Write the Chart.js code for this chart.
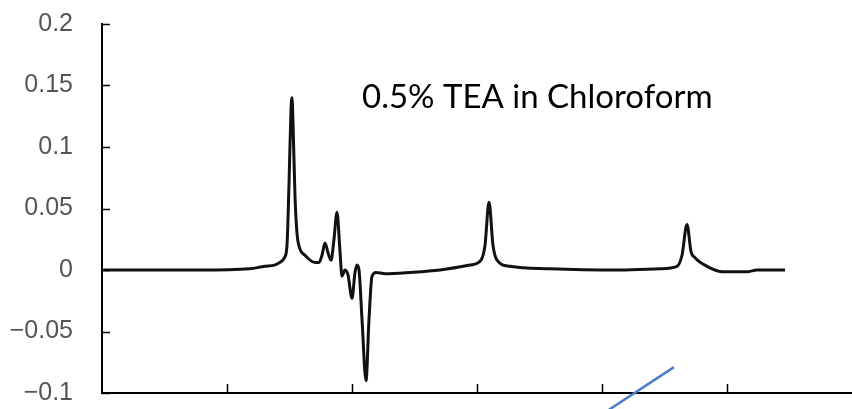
<!DOCTYPE html>
<html>
<head>
<meta charset="utf-8">
<script src="https://cdn.jsdelivr.net/npm/chart.js@4/dist/chart.umd.min.js"></script>
<style>
  html, body { margin: 0; padding: 0; background: #fff; }
  #wrap { width: 852px; height: 409px; position: relative; }
</style>
</head>
<body>
<div id="wrap"><canvas id="specChart"></canvas></div>
<script>
// spectrum trace (x in axis units, 1 unit = one x tick interval)
const position = [0.01, 0.78, 1.18, 1.30, 1.38, 1.42, 1.46, 1.48, 1.496, 1.512, 1.52, 1.528, 1.544, 1.56, 1.584,
    1.624, 1.664, 1.704, 1.736, 1.76, 1.784, 1.808, 1.832, 1.856, 1.88, 1.904, 1.92, 1.944, 1.968, 2.0,
    2.024, 2.04, 2.056, 2.08, 2.112, 2.136, 2.16, 2.192, 2.264, 2.464, 2.704, 2.944, 3.032, 3.064, 3.096,
    3.128, 3.16, 3.264, 3.584, 4.144, 4.464, 4.6, 4.64, 4.68, 4.712, 4.744, 4.84, 4.968, 5.16, 5.24, 5.464];
const signal = [0, 0, 0.001, 0.003, 0.004, 0.006, 0.010, 0.020, 0.070, 0.130, 0.140, 0.120, 0.060, 0.030, 0.017,
    0.012, 0.008, 0.006, 0.006, 0.012, 0.022, 0.014, 0.008, 0.025, 0.047, 0.015, -0.005, 0.0, -0.004, -0.023,
    -0.002, 0.004, 0.0, -0.040, -0.090, -0.040, -0.005, -0.002, -0.003, -0.002, 0.0, 0.004, 0.008, 0.020, 0.055,
    0.020, 0.008, 0.003, 0.001, 0.0, 0.001, 0.003, 0.012, 0.037, 0.015, 0.010, 0.003, -0.0015, -0.0015, 0.0, 0.0];

// blue annotation stroke
const markerX = [4.02, 4.576];
const markerY = [-0.116, -0.079];

const yTickLabels = ["\u22120.1", "\u22120.05", "0", "0.05", "0.1", "0.15", "0.2"];
const xTickValues = [1, 2, 3, 4, 5];
const titleText = "0.5% TEA in Chloroform";

const inwardTicks = {
    id: "inwardTicks",
    afterDraw(chart) {
        const ctx = chart.ctx;
        const xs = chart.scales.x, ys = chart.scales.y;
        const area = chart.chartArea;
        ctx.save();
        ctx.strokeStyle = "#000";
        ctx.lineWidth = 1.5;
        ctx.beginPath();
        ys.ticks.forEach(t => {
            const py = Math.round(ys.getPixelForValue(t.value)) + 0.5;
            ctx.moveTo(area.left, py);
            ctx.lineTo(area.left + 8, py);
        });
        xTickValues.forEach(v => {
            const px = Math.round(xs.getPixelForValue(v)) + 0.5;
            ctx.moveTo(px, area.bottom);
            ctx.lineTo(px, area.bottom - 9);
        });
        ctx.stroke();

        // label inside the plot
        ctx.fillStyle = "#000";
        ctx.font = "33px Lato";
        ctx.textBaseline = "alphabetic";
        ctx.textAlign = "left";
        ctx.fillText(titleText, xs.getPixelForValue(2.08), ys.getPixelForValue(0.1317));
        ctx.restore();
    }
};

new Chart(document.getElementById("specChart"), {
    type: "line",
    data: {
        datasets: [
            {
                label: "signal",
                data: position.map((x, i) => ({ x: x, y: signal[i] })),
                borderColor: "#111",
                borderWidth: 3,
                pointRadius: 0,
                cubicInterpolationMode: "monotone",
                fill: false
            },
            {
                label: "marker",
                data: markerX.map((x, i) => ({ x: x, y: markerY[i] })),
                borderColor: "#4a7ec4",
                borderWidth: 2.5,
                pointRadius: 0,
                clip: false
            }
        ]
    },
    plugins: [inwardTicks],
    options: {
        responsive: true,
        maintainAspectRatio: false,
        animation: false,
        layout: { padding: { top: 24, bottom: 16, right: 0, left: 0 } },
        plugins: {
            legend: { display: false },
            tooltip: { enabled: false }
        },
        scales: {
            x: {
                type: "linear",
                min: 0,
                max: 6,
                grid: { display: false, drawTicks: false },
                border: { display: true, color: "#000", width: 2 },
                ticks: { display: false, stepSize: 1 },
                afterFit(scale) {
                    scale.height = 0;
                    scale.paddingLeft = 0;
                    scale.paddingRight = 0;
                }
            },
            y: {
                min: -0.1,
                max: 0.2,
                grid: { display: false, drawTicks: false },
                border: { display: true, color: "#000", width: 2 },
                ticks: {
                    stepSize: 0.05,
                    padding: 29,
                    color: "#555",
                    font: { family: "Liberation Sans", size: 25 },
                    callback: (v, i) => yTickLabels[i]
                },
                afterFit(scale) {
                    scale.width = 102;
                    scale.paddingTop = 0;
                    scale.paddingBottom = 0;
                }
            }
        }
    }
});
</script>
</body>
</html>
